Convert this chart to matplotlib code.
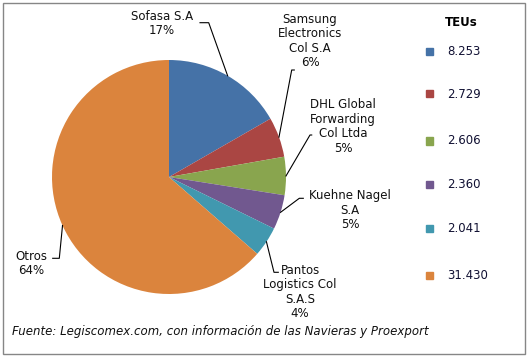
import matplotlib.pyplot as plt
from matplotlib.lines import Line2D
from matplotlib.patches import Rectangle
import numpy as np

# TEUs por empresa
empresas = ["Sofasa S.A", "Samsung\nElectronics\nCol S.A", "DHL Global\nForwarding\nCol Ltda",
            "Kuehne Nagel\nS.A", "Pantos\nLogistics Col\nS.A.S", "Otros"]
teus = [8253, 2729, 2606, 2360, 2041, 31430]
colores = ["#4572A7", "#AA4643", "#89A54E", "#71588F", "#4198AF", "#DB843D"]

W, H = 530, 357
fig = plt.figure(figsize=(W / 100, H / 100), dpi=100)
plt.rcParams['font.family'] = ['DejaVu Sans']
fs = 8.5


def fx(px):
    return px / W


def fy(py):
    return 1 - py / H


# pie: center (169, 177), radius 117 px
cx, cy, r = 169, 177, 117
ax = fig.add_axes([fx(cx - r), fy(cy + r), 2 * r / W, 2 * r / H])
wedges, _ = ax.pie(teus, colors=colores, startangle=90, counterclock=False,
                   wedgeprops=dict(linewidth=0))
ax.set_xlim(-1, 1)
ax.set_ylim(-1, 1)
ax.axis('off')

total = sum(teus)
pct = [round(v / total * 100) for v in teus]

# label block centers (px) and leader elbow / end points (px)
lbl_pos = [(162, 23.5), (310, 41), (343, 126.7), (350, 210), (300, 292), (31, 263.3)]
elbows = [((208.7, 22.7), (200, 22.7)),
          ((291.7, 70), (294.3, 70)),
          ((310, 135), (311.7, 135)),
          ((299.3, 198.3), (303.3, 198.3)),
          ((274, 272.3), (278.3, 272.3)),
          ((59.3, 258.3), (52.7, 258.3))]

inv = fig.transFigure.inverted()
for w, name, p, (lx, ly), (e1, e2) in zip(wedges, empresas, pct, lbl_pos, elbows):
    mid = np.deg2rad((w.theta1 + w.theta2) / 2)
    a = ax.transData.transform((np.cos(mid), np.sin(mid)))
    ax_f = inv.transform(a)
    xs = [ax_f[0], fx(e1[0]), fx(e2[0])]
    ys = [ax_f[1], fy(e1[1]), fy(e2[1])]
    fig.add_artist(Line2D(xs, ys, color='black', lw=0.8))
    fig.text(fx(lx), fy(ly), f"{name}\n{p}%", ha='center', va='center',
             fontsize=fs, linespacing=1.15, color='#111111')

# legend
fig.text(fx(461), fy(22.7), "TEUs", ha='center', va='center', fontsize=fs,
         fontweight='bold')
leg_y = [51.5, 94, 141, 184.5, 228.5, 275.5]
for v, c, y in zip(teus, colores, leg_y):
    fig.add_artist(Rectangle((fx(426), fy(y + 3.5)), 7 / W, 7 / H, color=c))
    fig.text(fx(447), fy(y), f"{v:,}".replace(",", "."), ha='left', va='center',
             fontsize=fs, color='#111133')

fig.text(fx(11.7), fy(332), "Fuente: Legiscomex.com, con información de las Navieras y Proexport",
         ha='left', va='center', fontsize=fs, style='italic', color='#111111')

fig.add_artist(Rectangle((fx(2.5), fy(354)), 522.5 / W, 351 / H, fill=False,
                         edgecolor='#868686', lw=1))

fig.savefig("out.png", dpi=100)
